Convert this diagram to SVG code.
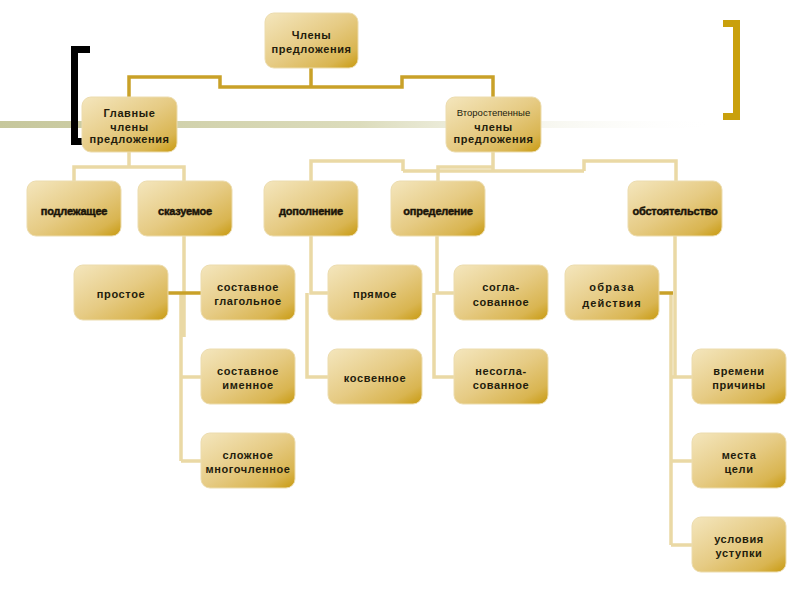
<svg xmlns="http://www.w3.org/2000/svg" width="800" height="600" viewBox="0 0 800 600">
<defs>
<linearGradient id="g" x1="0" y1="0" x2="1" y2="1">
<stop offset="0" stop-color="#f4e6bd"/>
<stop offset="0.5" stop-color="#e6cb84"/>
<stop offset="0.82" stop-color="#d9b551"/>
<stop offset="1" stop-color="#c89a10"/>
</linearGradient>
<linearGradient id="band" x1="0" y1="0" x2="1" y2="0">
<stop offset="0" stop-color="#c6c79c"/>
<stop offset="0.5" stop-color="#dcdcbc"/>
<stop offset="1" stop-color="#ffffff" stop-opacity="0"/>
</linearGradient>
<style>
.n{fill:url(#g);stroke:#ecdcae;stroke-width:1}
.t{font-family:"Liberation Sans",Arial,sans-serif;font-weight:bold;font-size:11px;fill:#231c0c;text-anchor:middle;letter-spacing:0.6px}
.h{font-size:11px;fill:#1a1408;stroke:#1a1408;stroke-width:0.45;letter-spacing:-0.2px}
.r{font-weight:normal;font-size:9.5px;letter-spacing:0}
.w{letter-spacing:1.3px}
.dk{fill:none;stroke:#c9a128;stroke-width:3.5}
.lt{fill:none;stroke:#ead9a5;stroke-width:3.5}
</style>
</defs>
<rect x="0" y="121" width="720" height="7" fill="url(#band)"/>
<path d="M90 49.5H74.5V141.5H86" fill="none" stroke="#000" stroke-width="7"/>
<path d="M723 23.5H736.5V116.5H723" fill="none" stroke="#c9a00c" stroke-width="7"/>
<g id="connectors">
<path class="dk" d="M311 68V87H220V77H129V97M311 87H402V77H493V97"/>
<path class="lt" d="M129 152V167M74 181V167H184V181"/>
<path class="lt" d="M493 152V171M403 171H584M403 171V161H311V181M584 171V161H676V181M493 167H438V181"/>
<path class="lt" d="M184 236V337M181 293V461M181 377H201M181 461H201"/>
<path class="dk" d="M168 293H201"/>
<path class="lt" d="M311 236V293H328M307 293V377H328"/>
<path class="lt" d="M437 236V293H454M434 293V377H454"/>
<path class="lt" d="M675 236V377M671 293V545M671 377H692M671 461H692M671 545H692"/>
<path class="dk" d="M659 293H673"/>
</g>
<g id="n-root"><rect class="n" x="265" y="13" width="93" height="55" rx="9"/><text class="t" x="311.5" y="39">Члены</text><text class="t" x="311.5" y="53">предложения</text></g>
<g id="n-main"><rect class="n" x="82" y="97" width="95" height="55" rx="9"/><text class="t" x="129.5" y="117">Главные</text><text class="t" x="129.5" y="131">члены</text><text class="t" x="129.5" y="143">предложения</text></g>
<g id="n-sec"><rect class="n" x="446" y="97" width="95" height="55" rx="9"/><text class="t r" x="493.5" y="116">Второстепенные</text><text class="t" x="493.5" y="131">члены</text><text class="t" x="493.5" y="143">предложения</text></g>
<g id="n-podl"><rect class="n" x="27" y="181" width="94" height="55" rx="9"/><text class="t h" x="74" y="215">подлежащее</text></g>
<g id="n-skaz"><rect class="n" x="138" y="181" width="94" height="55" rx="9"/><text class="t h" x="185" y="215">сказуемое</text></g>
<g id="n-dop"><rect class="n" x="264" y="181" width="94" height="55" rx="9"/><text class="t h" x="311" y="215">дополнение</text></g>
<g id="n-opr"><rect class="n" x="391" y="181" width="94" height="55" rx="9"/><text class="t h" x="438" y="215">определение</text></g>
<g id="n-obst"><rect class="n" x="628" y="181" width="94" height="55" rx="9"/><text class="t h" x="675" y="215">обстоятельство</text></g>
<g id="n-prost"><rect class="n" x="74" y="265" width="94" height="55" rx="9"/><text class="t" x="121" y="298">простое</text></g>
<g id="n-sgl"><rect class="n" x="201" y="265" width="94" height="55" rx="9"/><text class="t" x="248" y="291">составное</text><text class="t" x="248" y="305">глагольное</text></g>
<g id="n-pryam"><rect class="n" x="328" y="265" width="94" height="55" rx="9"/><text class="t" x="375" y="298">прямое</text></g>
<g id="n-sogl"><rect class="n" x="454" y="265" width="94" height="55" rx="9"/><text class="t" x="501" y="291">согла-</text><text class="t" x="501" y="306">сованное</text></g>
<g id="n-obr"><rect class="n" x="565" y="265" width="94" height="55" rx="9"/><text class="t w" x="612" y="291">образа</text><text class="t" x="612" y="307" style="letter-spacing:1px">действия</text></g>
<g id="n-sim"><rect class="n" x="201" y="349" width="94" height="55" rx="9"/><text class="t" x="248" y="375">составное</text><text class="t" x="248" y="389">именное</text></g>
<g id="n-kosv"><rect class="n" x="328" y="349" width="94" height="55" rx="9"/><text class="t" x="375" y="382">косвенное</text></g>
<g id="n-nesogl"><rect class="n" x="454" y="349" width="94" height="55" rx="9"/><text class="t" x="501" y="375">несогла-</text><text class="t" x="501" y="389">сованное</text></g>
<g id="n-vrem"><rect class="n" x="692" y="349" width="94" height="55" rx="9"/><text class="t" x="739" y="375">времени</text><text class="t" x="739" y="389">причины</text></g>
<g id="n-slozh"><rect class="n" x="201" y="433" width="94" height="55" rx="9"/><text class="t" x="248" y="459">сложное</text><text class="t" x="248" y="473">многочленное</text></g>
<g id="n-mesta"><rect class="n" x="692" y="433" width="94" height="55" rx="9"/><text class="t" x="739" y="459">места</text><text class="t" x="739" y="473">цели</text></g>
<g id="n-usl"><rect class="n" x="692" y="517" width="94" height="55" rx="9"/><text class="t" x="739" y="543">условия</text><text class="t" x="739" y="557">уступки</text></g>
</svg>
